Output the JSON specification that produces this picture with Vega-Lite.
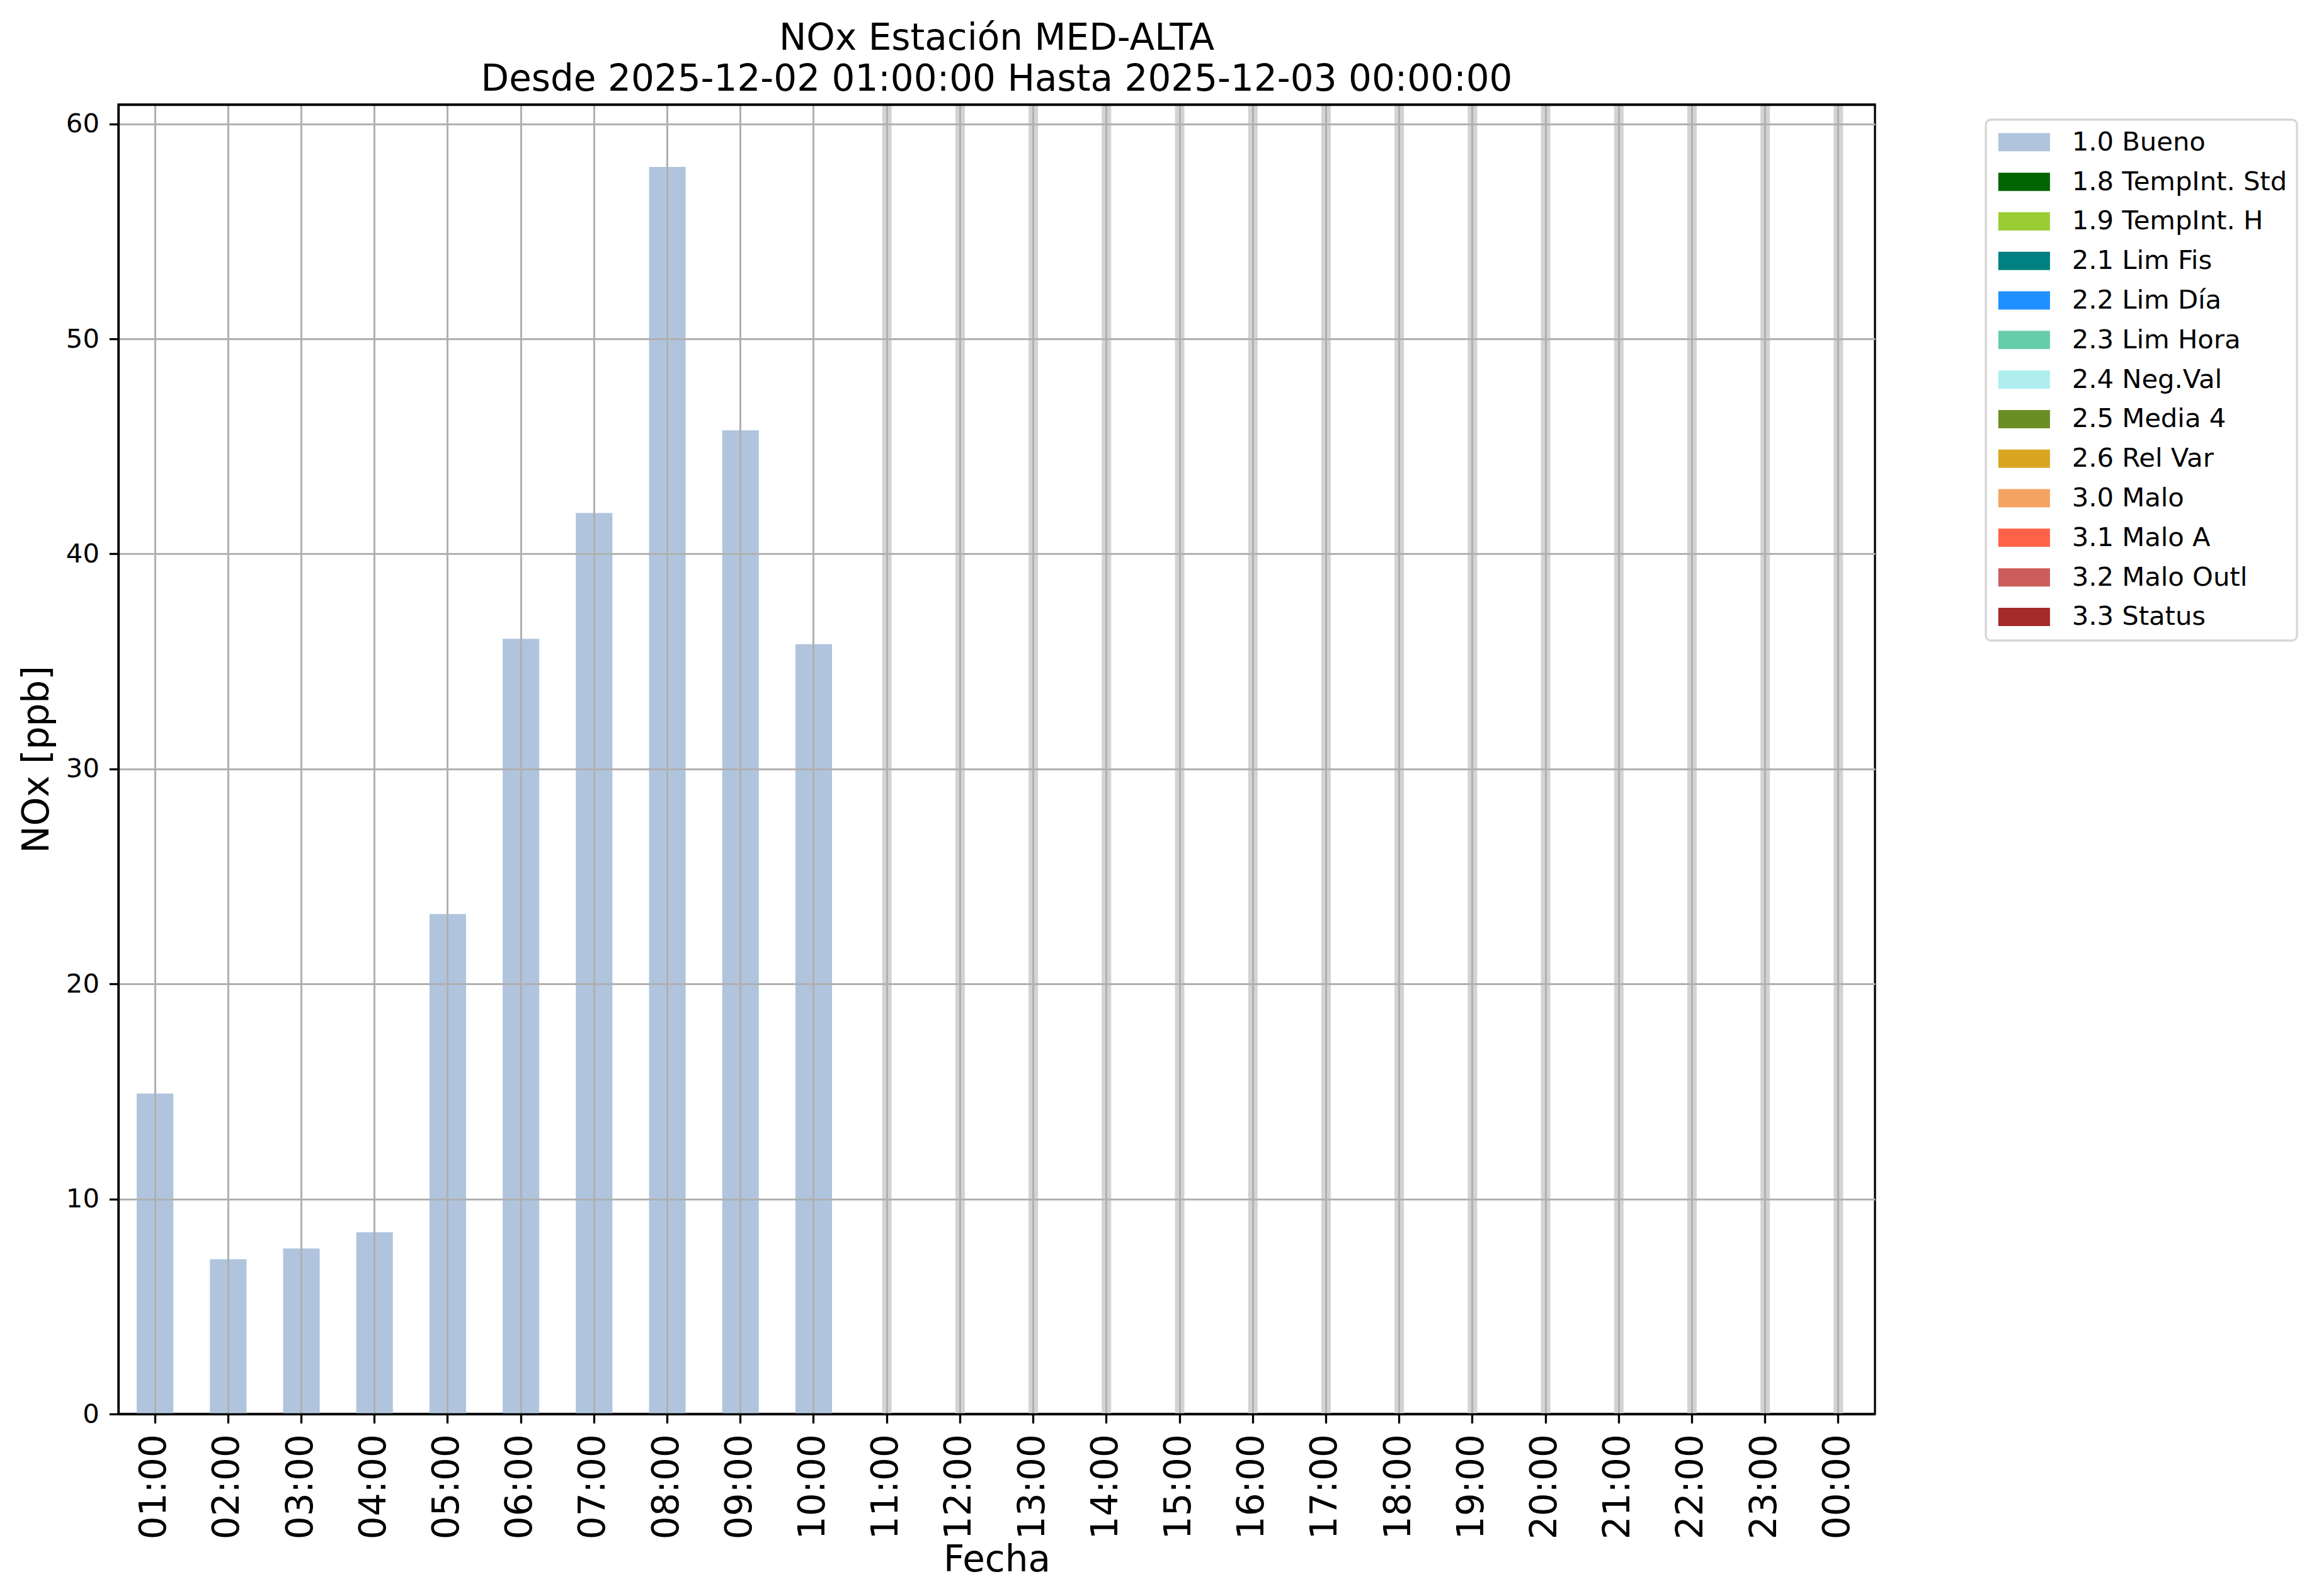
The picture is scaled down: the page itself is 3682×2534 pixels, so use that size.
{
  "$schema": "https://vega.github.io/schema/vega-lite/v6.json",
  "autosize": {"type": "none"},
  "width": 2789,
  "height": 2079,
  "padding": {"left": 188, "top": 166, "right": 705, "bottom": 289},
  "background": "white",
  "config": {
    "font": "DejaVu Sans",
    "view": {"stroke": "black", "strokeWidth": 3.3}
  },
  "title": {
    "text": ["NOx Estación MED-ALTA", "Desde 2025-12-02 01:00:00 Hasta 2025-12-03 00:00:00"],
    "fontSize": 58,
    "fontWeight": "normal",
    "font": "DejaVu Sans",
    "color": "black",
    "anchor": "middle",
    "frame": "group",
    "lineHeight": 65,
    "baseline": "alphabetic",
    "offset": -43
  },
  "data": {
    "values": [
      {"hora": "01:00", "NOx": 14.9, "flag": "1.0 Bueno"},
      {"hora": "02:00", "NOx": 7.2, "flag": "1.0 Bueno"},
      {"hora": "03:00", "NOx": 7.7, "flag": "1.0 Bueno"},
      {"hora": "04:00", "NOx": 8.45, "flag": "1.0 Bueno"},
      {"hora": "05:00", "NOx": 23.25, "flag": "1.0 Bueno"},
      {"hora": "06:00", "NOx": 36.05, "flag": "1.0 Bueno"},
      {"hora": "07:00", "NOx": 41.9, "flag": "1.0 Bueno"},
      {"hora": "08:00", "NOx": 58.0, "flag": "1.0 Bueno"},
      {"hora": "09:00", "NOx": 45.75, "flag": "1.0 Bueno"},
      {"hora": "10:00", "NOx": 35.8, "flag": "1.0 Bueno"},
      {"hora": "11:00", "NOx": null, "flag": null},
      {"hora": "12:00", "NOx": null, "flag": null},
      {"hora": "13:00", "NOx": null, "flag": null},
      {"hora": "14:00", "NOx": null, "flag": null},
      {"hora": "15:00", "NOx": null, "flag": null},
      {"hora": "16:00", "NOx": null, "flag": null},
      {"hora": "17:00", "NOx": null, "flag": null},
      {"hora": "18:00", "NOx": null, "flag": null},
      {"hora": "19:00", "NOx": null, "flag": null},
      {"hora": "20:00", "NOx": null, "flag": null},
      {"hora": "21:00", "NOx": null, "flag": null},
      {"hora": "22:00", "NOx": null, "flag": null},
      {"hora": "23:00", "NOx": null, "flag": null},
      {"hora": "00:00", "NOx": null, "flag": null}
    ]
  },
  "layer": [
    {
      "transform": [{"filter": "datum.NOx != null"}],
      "mark": {"type": "bar"},
      "encoding": {
        "x": {
          "field": "hora",
          "type": "nominal",
          "sort": null,
          "scale": {
            "domain": ["01:00","02:00","03:00","04:00","05:00","06:00","07:00","08:00","09:00","10:00","11:00","12:00","13:00","14:00","15:00","16:00","17:00","18:00","19:00","20:00","21:00","22:00","23:00","00:00"],
            "paddingInner": 0.5,
            "paddingOuter": 0.25
          },
          "axis": {
            "orient": "bottom",
            "title": "Fecha",
            "titleFontSize": 58,
            "titleFontWeight": "normal",
            "titleFont": "DejaVu Sans",
            "titleColor": "black",
            "titlePadding": 5,
            "labelAngle": 270,
            "labelFontSize": 58,
            "labelFont": "DejaVu Sans",
            "labelColor": "black",
            "labelPadding": 17,
            "tickSize": 14.6,
            "tickWidth": 3.3,
            "tickColor": "black",
            "domain": true,
            "domainColor": "black",
            "domainWidth": 3.3,
            "grid": true,
            "gridColor": "#b0b0b0",
            "gridWidth": 3,
            "bandPosition": 0.5,
            "zindex": 1
          }
        },
        "y": {
          "field": "NOx",
          "type": "quantitative",
          "scale": {"domain": [0, 60.9], "nice": false},
          "axis": {
            "values": [0, 10, 20, 30, 40, 50, 60],
            "title": "NOx [ppb]",
            "titleFontSize": 58,
            "titleFontWeight": "normal",
            "titleFont": "DejaVu Sans",
            "titleColor": "black",
            "titlePadding": 16,
            "labelFontSize": 41.7,
            "labelFont": "DejaVu Sans",
            "labelColor": "black",
            "labelPadding": 16,
            "tickSize": 14.6,
            "tickWidth": 3.3,
            "tickColor": "black",
            "domain": true,
            "domainColor": "black",
            "domainWidth": 3.3,
            "grid": true,
            "gridColor": "#b0b0b0",
            "gridWidth": 3,
            "zindex": 1
          }
        },
        "color": {
          "field": "flag",
          "type": "nominal",
          "scale": {
            "domain": ["1.0 Bueno","1.8 TempInt. Std","1.9 TempInt. H","2.1 Lim Fis","2.2 Lim Día","2.3 Lim Hora","2.4 Neg.Val","2.5 Media 4","2.6 Rel Var","3.0 Malo","3.1 Malo A","3.2 Malo Outl","3.3 Status"],
            "range": ["#b0c4de","#006400","#9acd32","#008080","#1e90ff","#66cdaa","#afeeee","#6b8e23","#daa520","#f4a460","#ff6347","#cd5c5c","#a52a2a"]
          },
          "legend": {
            "orient": "none",
            "legendX": 2965,
            "legendY": 24,
            "title": null,
            "labelFontSize": 41.7,
            "labelFont": "DejaVu Sans",
            "labelColor": "black",
            "labelLimit": 0,
            "symbolType": "M-2.83,-1H2.83V1H-2.83Z",
            "symbolSize": 841,
            "symbolStrokeWidth": 0,
            "symbolOpacity": 1,
            "symbolOffset": 25,
            "labelOffset": 55,
            "rowPadding": 19.8,
            "padding": 15,
            "strokeColor": "#d6d6d6",
            "cornerRadius": 8,
            "fillColor": "white",
            "encode": {
              "legend": {"update": {"strokeWidth": {"value": 3.3}}}
            }
          }
        }
      }
    },
    {
      "transform": [{"filter": "datum.NOx == null"}],
      "mark": {"type": "rule", "color": "#d3d3d3", "strokeWidth": 15},
      "encoding": {
        "x": {
          "field": "hora",
          "type": "nominal",
          "sort": null,
          "axis": {
            "orient": "top",
            "title": null,
            "labels": false,
            "ticks": false,
            "grid": false,
            "domain": true,
            "domainColor": "black",
            "domainWidth": 3.3,
            "zindex": 1
          }
        }
      }
    }
  ],
  "resolve": {"axis": {"x": "independent"}}
}
